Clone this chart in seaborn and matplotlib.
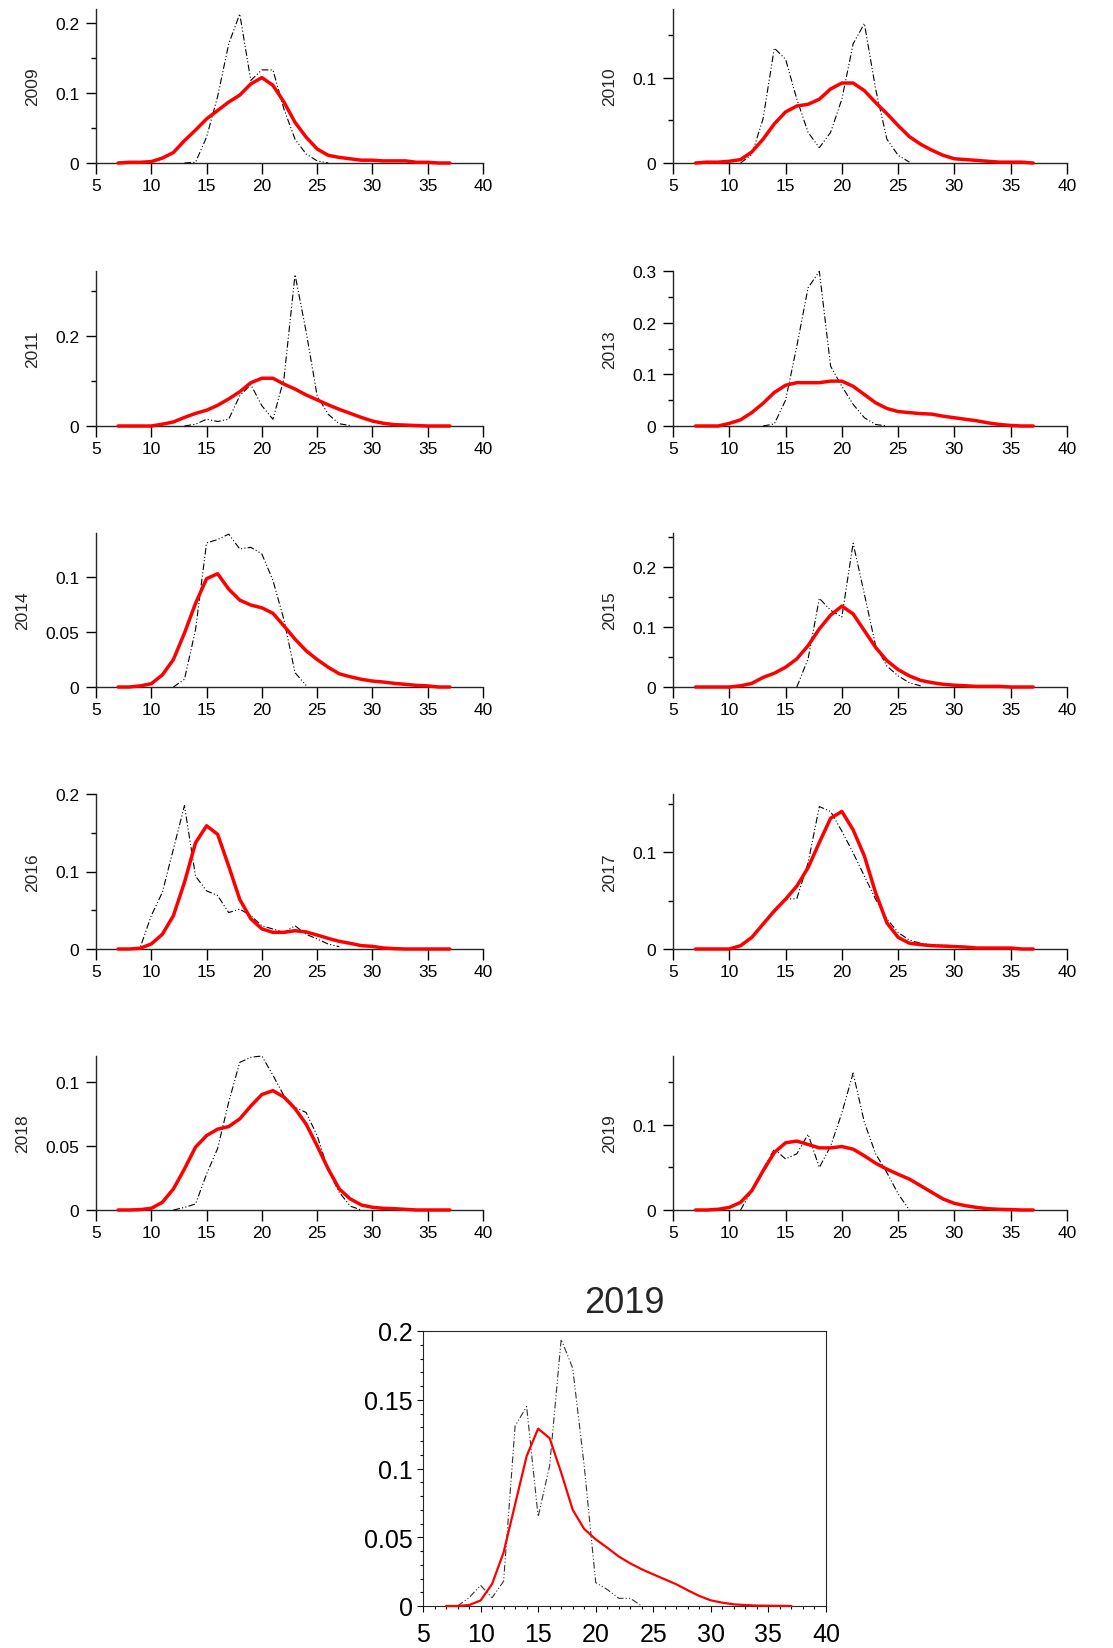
import matplotlib
matplotlib.use("Agg")
import matplotlib.pyplot as plt
import pandas as pd
import seaborn as sns
from matplotlib.ticker import MultipleLocator, FuncFormatter, NullLocator

# ---------------------------------------------------------------------------
# Data: length classes (x) and density per class for each year.
# "model" = fitted density (red), "obs" = observed frequency (black dash-dot).
# ---------------------------------------------------------------------------
size_classes = list(range(7, 38))

model_2009 = [0, .001, .001, .002, .007, .015, .032, .047, .063, .075, .087, .097,
              .113, .122, .111, .087, .058, .037, .020, .011, .008, .006, .004,
              .004, .003, .003, .003, .001, .001, 0, 0]
obs_2009_start = 13
obs_2009 = [0, .001, .037, .095, .17, .213, .118, .133, .133, .077, .034, .013, .003, 0]

model_2010 = [0, .001, .001, .002, .004, .013, .028, .046, .060, .067, .069, .075,
              .087, .094, .094, .085, .071, .058, .044, .031, .022, .015, .009,
              .005, .004, .003, .002, .001, .001, .001, 0]
obs_2010_start = 11
obs_2010 = [0, .01, .052, .135, .122, .075, .036, .018, .036, .075, .14, .164, .087,
            .028, .009, .001]

model_2011 = [0, 0, 0, 0, .004, .009, .019, .028, .035, .046, .060, .076, .096,
              .106, .106, .093, .082, .069, .058, .047, .037, .028, .019, .011,
              .006, .003, .002, .001, 0, 0, 0]
obs_2011_start = 13
obs_2011 = [0, .004, .015, .010, .015, .067, .092, .045, .015, .105, .336, .21, .067,
            .026, .005, .001]

model_2013 = [0, 0, 0, .005, .012, .026, .044, .065, .079, .084, .084, .084, .087,
              .087, .077, .061, .045, .034, .028, .026, .024, .023, .019, .016,
              .013, .010, .006, .003, .001, 0, 0]
obs_2013_start = 13
obs_2013 = [0, .004, .05, .155, .268, .30, .116, .077, .042, .016, .003, 0]

model_2014 = [0, 0, .001, .003, .011, .025, .049, .076, .0985, .103, .089, .079,
              .0745, .072, .067, .0555, .0435, .033, .025, .018, .012, .0093, .007,
              .0054, .0045, .0033, .0024, .0015, .001, 0, 0]
obs_2014_start = 12
obs_2014 = [0, .007, .052, .131, .134, .139, .1255, .127, .121, .097, .061, .013, .0015]

model_2015 = [0, 0, 0, 0, .002, .006, .016, .023, .033, .047, .069, .097, .120,
              .135, .122, .094, .066, .044, .029, .0185, .011, .0073, .0045, .003,
              .002, .001, .001, .001, 0, 0, 0]
obs_2015_start = 16
obs_2015 = [0, .047, .148, .128, .117, .24, .155, .069, .035, .0185, .007, .002]

model_2016 = [0, 0, .001, .0065, .019, .043, .086, .137, .159, .148, .107, .064,
              .039, .026, .0215, .0215, .0236, .022, .018, .0137, .0099, .0073,
              .0043, .0034, .0013, .0005, 0, 0, 0, 0, 0]
obs_2016_start = 8
obs_2016 = [0, .002, .043, .073, .129, .185, .094, .075, .069, .047, .0515, .043,
            .030, .0258, .0215, .030, .019, .0129, .0064, .003]

model_2017 = [0, 0, 0, 0, .0034, .012, .0257, .0394, .0514, .065, .084, .11, .135,
              .142, .123, .096, .058, .027, .012, .006, .0045, .0034, .003, .0025,
              .002, .001, .001, .001, .001, 0, 0]
obs_2017_start = 12
obs_2017 = [.012, .027, .0377, .0514, .052, .089, .147, .142, .1216, .0993, .0753,
            .0514, .031, .017, .0092, .0058, .0045, .0038, .0034]

model_2018 = [0, 0, .0003, .0013, .006, .0164, .032, .049, .058, .063, .065, .071,
              .081, .090, .093, .088, .079, .067, .050, .032, .0164, .0086, .0039,
              .0021, .0013, .001, .0005, 0, 0, 0, 0]
obs_2018_start = 12
obs_2018 = [0, .002, .0047, .028, .048, .084, .115, .119, .12, .105, .089, .080,
            .076, .058, .031, .0138, .003, 0]

model_2019 = [0, 0, .0008, .003, .009, .0227, .046, .0676, .079, .081, .077, .073,
              .073, .0746, .0715, .0637, .055, .048, .042, .0363, .0285, .0207,
              .0129, .0078, .005, .003, .0015, .0008, .0005, 0, 0]
obs_2019_start = 11
obs_2019 = [0, .0227, .048, .0715, .06, .066, .089, .05, .075, .114, .161, .103,
            .066, .044, .019, 0]

# Pooled panel shown enlarged at the bottom
model_pooled = [0, 0, .0007, .004, .016, .039, .074, .109, .129, .122, .097, .070,
                .056, .0485, .0424, .036, .031, .0267, .023, .0194, .0158, .0114,
                .0073, .0041, .0024, .0012, .0007, .0003, .0002, .0001, 0]
obs_pooled_start = 8
obs_pooled = [0, .006, .015, .006, .018, .131, .145, .065, .102, .194, .173, .102,
              .017, .012, .0056, .0056, 0]

years = ["2009", "2010", "2011", "2013", "2014", "2015", "2016", "2017", "2018", "2019"]
models = [model_2009, model_2010, model_2011, model_2013, model_2014,
          model_2015, model_2016, model_2017, model_2018, model_2019]
obs_starts = [obs_2009_start, obs_2010_start, obs_2011_start, obs_2013_start,
              obs_2014_start, obs_2015_start, obs_2016_start, obs_2017_start,
              obs_2018_start, obs_2019_start]
observations = [obs_2009, obs_2010, obs_2011, obs_2013, obs_2014,
                obs_2015, obs_2016, obs_2017, obs_2018, obs_2019]

# Axis extents and y tick spacing per small panel
y_tops = [0.22, 0.181, 0.344, 0.3005, 0.14, 0.257, 0.2, 0.16, 0.12, 0.181]
y_steps = [0.1, 0.1, 0.2, 0.1, 0.05, 0.1, 0.1, 0.1, 0.05, 0.1]

# ---------------------------------------------------------------------------
sns.set_style("ticks")
plt.rcParams["font.family"] = ["Liberation Sans", "DejaVu Sans"]
plt.rcParams["axes.linewidth"] = 1.0

W, H = 1113, 1649
fig = plt.figure(figsize=(W / 100, H / 100), dpi=100)


def rect(left, top, right, bottom):
    return [left / W, 1 - bottom / H, (right - left) / W, (bottom - top) / H]


col_lr = [(96, 483), (673, 1067)]
row_tb = [(10, 164), (272, 427), (534, 688), (795, 950), (1057, 1211)]

dash_dot_dot = (0, (6, 2, 1, 2, 1, 2))
fmt = FuncFormatter(lambda v, p: f"{v:g}")
small_font = 12.5


def draw_curves(ax, obs_x, obs_y, model_y, lw_model, lw_obs, obs_color):
    sns.lineplot(x=obs_x, y=obs_y, ax=ax, color=obs_color, lw=lw_obs,
                 linestyle=dash_dot_dot, estimator=None, sort=False,
                 zorder=3, clip_on=False)
    sns.lineplot(x=size_classes, y=model_y, ax=ax, color="red", lw=lw_model,
                 estimator=None, sort=False, zorder=4, clip_on=False)


for i, year in enumerate(years):
    r, c = divmod(i, 2)
    l, rt = col_lr[c]
    t, b = row_tb[r]
    ax = fig.add_axes(rect(l, t, rt, b))
    obs_x = list(range(obs_starts[i], obs_starts[i] + len(observations[i])))
    draw_curves(ax, obs_x, observations[i], models[i], 2.5, 0.8, "black")

    ax.set_xlim(5, 40)
    ax.set_ylim(0, y_tops[i])
    ax.xaxis.set_major_locator(MultipleLocator(5))
    ax.xaxis.set_minor_locator(NullLocator())
    ax.yaxis.set_major_locator(MultipleLocator(y_steps[i]))
    if y_steps[i] >= 0.1:
        ax.yaxis.set_minor_locator(MultipleLocator(y_steps[i] / 2))
    else:
        ax.yaxis.set_minor_locator(NullLocator())
    ax.yaxis.set_major_formatter(fmt)
    ax.xaxis.set_major_formatter(fmt)
    for side in ("top", "right"):
        ax.spines[side].set_visible(False)
    ax.tick_params(axis="x", which="major", length=8, width=1, pad=3,
                   labelsize=small_font, colors="black")
    ax.tick_params(axis="y", which="major", length=7, width=1, pad=5,
                   labelsize=small_font, colors="black")
    ax.tick_params(axis="y", which="minor", length=3.5, width=1, colors="black")
    ax.set_xlabel("")
    ax.set_ylabel(year, fontsize=small_font, labelpad=11)

# Enlarged bottom panel
ax = fig.add_axes(rect(423, 1332, 826, 1607))
obs_x = list(range(obs_pooled_start, obs_pooled_start + len(obs_pooled)))
draw_curves(ax, obs_x, obs_pooled, model_pooled, 1.6, 0.8, "0.2")
ax.set_xlim(5, 40)
ax.set_ylim(0, 0.2)
ax.xaxis.set_major_locator(MultipleLocator(5))
ax.xaxis.set_minor_locator(MultipleLocator(1))
ax.yaxis.set_major_locator(MultipleLocator(0.05))
ax.yaxis.set_minor_locator(MultipleLocator(0.01))
ax.xaxis.set_major_formatter(fmt)
ax.yaxis.set_major_formatter(fmt)
for s in ax.spines.values():
    s.set_linewidth(0.8)
ax.tick_params(which="major", length=4.5, width=0.8, labelsize=18, colors="black")
ax.tick_params(axis="x", which="major", pad=7)
ax.tick_params(axis="y", which="major", pad=3)
ax.tick_params(which="minor", length=2.5, width=0.8, colors="black")
ax.set_xlabel("")
ax.set_ylabel("")
ax.set_title("2019", fontsize=26, pad=14)

fig.savefig("out.png", dpi=100)
